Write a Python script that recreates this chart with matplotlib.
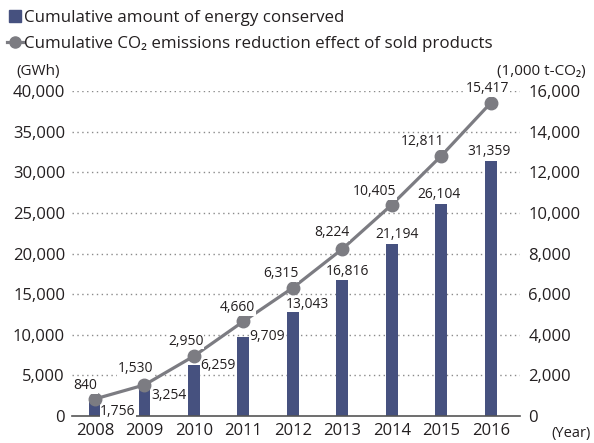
import matplotlib
matplotlib.use("Agg")
import matplotlib.pyplot as plt
from matplotlib.lines import Line2D

plt.rcParams['font.family'] = ['Open Sans', 'DejaVu Sans']

years = [2008, 2009, 2010, 2011, 2012, 2013, 2014, 2015, 2016]
energy = [1756, 3254, 6259, 9709, 13043, 16816, 21194, 26104, 31359]
co2 = [840, 1530, 2950, 4660, 6315, 8224, 10405, 12811, 15417]

bar_color = '#46517f'
line_color = '#7c7c82'
text_color = '#231f20'

# label offsets in pixels from the bar top / marker centre
bar_offsets = [(23, -10), (25, -6), (24, 0), (24, 1), (14, 6),
               (5, 8), (5, 9), (-2, 9), (-2, 10)]
line_offsets = [(-10, 13), (-9, 16), (-8, 15), (-6, 14), (-12, 14),
                (-11, 16), (-17, 13), (-19, 14), (-3, 14)]

fig = plt.figure(figsize=(5.94, 4.43), dpi=100)
ax = fig.add_axes([72 / 594, 27 / 443, 448 / 594, 325 / 443])
ax2 = ax.twinx()

ax.bar(years, energy, width=0.24, color=bar_color, zorder=2)
ax.set_xlim(2008 - 0.465, 2016 + 0.59)
ax.set_ylim(0, 40000)
ax.set_yticks(range(0, 40001, 5000))
ax.set_yticklabels([f'{v:,}' for v in range(0, 40001, 5000)])
ax.set_xticks(years)
ax.set_xticklabels([str(y) for y in years])
for v in range(5000, 40001, 5000):
    ax.axhline(v, color='#8a8a8a', lw=1, ls=(0, (1, 2.5)), zorder=1)

ax2.plot(years, co2, color=line_color, lw=2.3, marker='o', markersize=9,
         markerfacecolor=line_color, markeredgecolor=line_color, zorder=3)
ax2.set_ylim(0, 16000)
ax2.set_yticks(range(0, 16001, 2000))
ax2.set_yticklabels([f'{v:,}' for v in range(0, 16001, 2000)])

for a in (ax, ax2):
    for s in ['top', 'left', 'right', 'bottom']:
        a.spines[s].set_visible(False)
    a.tick_params(length=0, labelsize=12, colors=text_color)
ax.spines['bottom'].set_visible(True)
ax.spines['bottom'].set_color('#555555')
ax.spines['bottom'].set_linewidth(1.2)
ax.tick_params(axis='y', pad=5)
ax.tick_params(axis='x', pad=5)
ax2.tick_params(axis='y', pad=6)

px = 72 / 100
box = dict(facecolor='white', edgecolor='none', pad=0.5)
for x, v, (dx, dy) in zip(years, energy, bar_offsets):
    ax.annotate(f'{v:,}', (x, v), xytext=(dx * px, dy * px), textcoords='offset points',
                ha='center', va='center', fontsize=10, color=text_color, bbox=box, zorder=4)
for x, v, (dx, dy) in zip(years, co2, line_offsets):
    ax2.annotate(f'{v:,}', (x, v), xytext=(dx * px, dy * px), textcoords='offset points',
                 ha='center', va='center', fontsize=10, color=text_color, bbox=box, zorder=4)

fig.text(16 / 594, 1 - 72 / 443, '(GWh)', fontsize=11, color=text_color, va='center')
fig.text(586 / 594, 1 - 72 / 443, '(1,000 t-CO₂)', fontsize=11, color=text_color,
         va='center', ha='right')
fig.text(591 / 594, 1 - 433 / 443, '(Year)', fontsize=10.5, color=text_color,
         va='center', ha='right')

handles = [Line2D([], [], ls='none', marker='s', markersize=9, color=bar_color),
           Line2D([], [], color=line_color, lw=2.3, marker='o', markersize=8)]
labels = ['Cumulative amount of energy conserved',
          'Cumulative CO₂ emissions reduction effect of sold products']
fig.legend(handles, labels, loc='upper left', bbox_to_anchor=(7 / 594, 1 - 10 / 443),
           frameon=False, fontsize=12.2, handlelength=1.0, handletextpad=0.0,
           labelspacing=0.6, borderaxespad=0, borderpad=0, labelcolor=text_color)

fig.savefig('out.png', dpi=100)
